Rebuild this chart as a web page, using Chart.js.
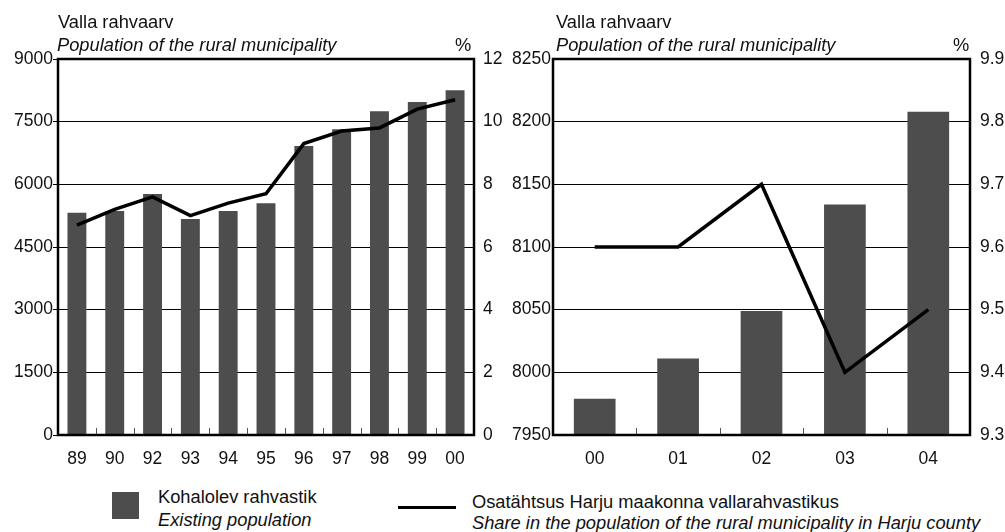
<!DOCTYPE html>
<html>
<head>
<meta charset="utf-8">
<script src="https://cdn.jsdelivr.net/npm/chart.js@4.4.1/dist/chart.umd.min.js"></script>
<style>
body { margin: 0; background: #fff; font-family: "Liberation Sans", Arial, sans-serif; color: #111; }
#page { position: relative; width: 1005px; height: 532px; overflow: hidden; }
.t { position: absolute; white-space: nowrap; font-size: 18.3px; line-height: 20px; }
.i { font-style: italic; }
.wrap { position: absolute; top: 0; height: 480px; }
</style>
</head>
<body>
<div id="page">
  <div class="wrap" style="left:0;width:520px"><canvas id="left"></canvas></div>
  <div class="wrap" style="left:500px;width:505px"><canvas id="right"></canvas></div>

  <div class="t" style="left:58px;top:12px">Valla rahvaarv</div>
  <div class="t i" style="left:57px;top:35px">Population of the rural municipality</div>
  <div class="t" style="left:455px;top:35px">%</div>

  <div class="t" style="left:556px;top:12px">Valla rahvaarv</div>
  <div class="t i" style="left:556px;top:35px">Population of the rural municipality</div>
  <div class="t" style="left:953px;top:35px">%</div>

  <div style="position:absolute;left:112px;top:492px;width:27px;height:27px;background:#4d4d4d"></div>
  <div class="t" style="left:158px;top:487px">Kohalolev rahvastik</div>
  <div class="t i" style="left:158px;top:510px">Existing population</div>

  <div style="position:absolute;left:398px;top:506px;width:58px;height:3px;background:#000"></div>
  <div class="t" style="left:472px;top:492px">Osatähtsus Harju maakonna vallarahvastikus</div>
  <div class="t i" style="left:472px;top:513px">Share in the population of the rural municipality in Harju county</div>
</div>
<script>
// left panel, 1989-2000
var yearsA = ["89", "90", "92", "93", "94", "95", "96", "97", "98", "99", "00"];
var popA = [5320, 5360, 5770, 5170, 5360, 5550, 6920, 7320, 7750, 7970, 8250];
var shareA = [6.7, 7.2, 7.6, 7.0, 7.4, 7.7, 9.3, 9.7, 9.8, 10.4, 10.7];

// right panel, 2000-2004
var yearsB = ["00", "01", "02", "03", "04"];
var popB = [7979, 8011, 8049, 8134, 8208];
var shareB = [9.6, 9.6, 9.7, 9.4, 9.5];

var tickFont = { family: "Liberation Sans", size: 17.5 };

var framePlugin = {
    id: "frame",
    afterDatasetsDraw: function (chart) {
        var a = chart.chartArea, c = chart.ctx, x = chart.scales.x;
        c.save();
        c.strokeStyle = "#555";
        c.lineWidth = 1;
        for (var i = 1; i < x.ticks.length; i++) {
            var px = Math.round((x.getPixelForTick(i - 1) + x.getPixelForTick(i)) / 2) + 0.5;
            c.beginPath();
            c.moveTo(px, a.bottom);
            c.lineTo(px, a.bottom - 7);
            c.stroke();
        }
        c.strokeStyle = "#000";
        c.lineWidth = 2.5;
        c.strokeRect(a.left, a.top, a.right - a.left, a.bottom - a.top);
        c.restore();
    }
};

function makeChart(id, labels, pop, share, o) {
    new Chart(document.getElementById(id).getContext("2d"), {
        type: "bar",
        data: {
            labels: labels,
            datasets: [{
                type: "line",
                data: share,
                yAxisID: "y1",
                borderColor: "#000",
                borderWidth: 3.5,
                pointRadius: 0,
                tension: 0,
                order: 0
            }, {
                data: pop,
                yAxisID: "y",
                backgroundColor: "#4d4d4d",
                barPercentage: 0.5,
                categoryPercentage: 1,
                order: 1
            }]
        },
        plugins: [framePlugin],
        options: {
            responsive: true,
            maintainAspectRatio: false,
            animation: false,
            devicePixelRatio: 1,
            layout: { padding: { top: 59, left: 0, right: 0, bottom: 0 } },
            plugins: {
                legend: { display: false },
                tooltip: { enabled: false }
            },
            scales: {
                x: {
                    grid: { display: false, drawTicks: false },
                    border: { display: false },
                    ticks: { padding: 14, font: tickFont, color: "#111" },
                    afterFit: function (s) { s.height = 45; }
                },
                y: {
                    position: "left",
                    min: o.popMin,
                    max: o.popMax,
                    ticks: {
                        stepSize: o.popStep,
                        padding: o.leftPad,
                        font: tickFont,
                        color: "#111",
                        callback: function (v) { return String(v); }
                    },
                    grid: { color: "#000", lineWidth: 1, drawTicks: o.leftTick > 0, tickLength: o.leftTick },
                    border: { display: false },
                    afterFit: function (s) { s.width = o.leftW; }
                },
                y1: {
                    position: "right",
                    min: o.shareMin,
                    max: o.shareMax,
                    ticks: {
                        stepSize: o.shareStep,
                        padding: o.rightPad,
                        font: tickFont,
                        color: "#111",
                        callback: function (v) { return v.toFixed(o.decimals); }
                    },
                    grid: { display: false, drawOnChartArea: false, drawTicks: false },
                    border: { display: false },
                    afterFit: function (s) { s.width = o.rightW; }
                }
            }
        }
    });
}

makeChart("left", yearsA, popA, shareA, {
    popMin: 0, popMax: 9000, popStep: 1500,
    shareMin: 0, shareMax: 12, shareStep: 2, decimals: 0,
    leftW: 58, rightW: 46, leftTick: 5, leftPad: 0, rightPad: 9
});

makeChart("right", yearsB, popB, shareB, {
    popMin: 7950, popMax: 8250, popStep: 50,
    shareMin: 9.3, shareMax: 9.9, shareStep: 0.1, decimals: 1,
    leftW: 53, rightW: 35, leftTick: 0, leftPad: 2, rightPad: 10
});
</script>
</body>
</html>
